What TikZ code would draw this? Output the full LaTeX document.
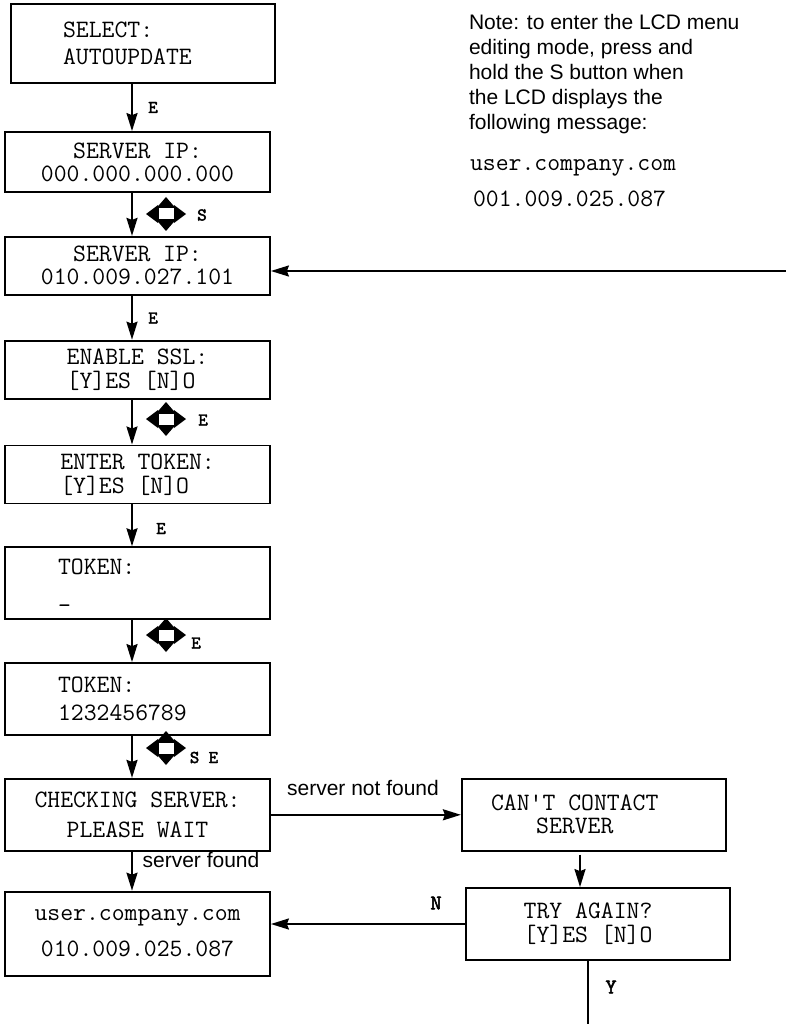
\documentclass[tikz,border=0pt]{standalone}
\usepackage{fontspec}
\setmainfont{Liberation Sans}
\newfontfamily\keyfont{lmmono10-regular.otf}[FakeBold=2.5]
\usetikzlibrary{positioning,arrows.meta}
\begin{document}
\begin{tikzpicture}[x=1pt,y=-1pt,line width=2pt,every node/.style={inner sep=0pt},
  lcd/.style={draw,line width=1.8pt,minimum width=265pt,minimum height=#1,font=\ttfamily\fontsize{25}{27}\selectfont},
  keypad/.pic={
    \draw[fill=white,line width=1pt](-8,-6) rectangle (8,6);
    \fill(-8,-9)--(-8,9)--(-20,0)--cycle;
    \fill(8,-9)--(8,9)--(20,0)--cycle;
    \fill(-9.5,-6)--(9.5,-6)--(0,-17)--cycle;
    \fill(-9.5,6)--(9.5,6)--(0,17)--cycle;
  }]
\tikzstyle{arr}=[draw,-{Stealth[length=18pt,width=11pt,inset=2pt]}]
\tikzstyle{key}=[font=\keyfont\fontsize{18}{20}\selectfont]
\tikzstyle{msg}=[font=\fontsize{21}{25}\selectfont]
\useasboundingbox (0,0) rectangle (786,1024);

\node[lcd=79pt,minimum width=264pt,align=left,text width=160pt,inner xsep=52pt](sel) at (143,43.5){SELECT:\\AUTOUPDATE};
\node[lcd=60pt,align=center](ip0) at (137.5,162){SERVER IP:\\[-4pt]000.000.000.000};
\node[lcd=58pt,align=center,below=43pt of ip0](ip1){SERVER IP:\\[-4pt]010.009.027.101};
\node[lcd=58pt,align=left,below=44pt of ip1](ssl){ENABLE SSL:\\[-3pt]{}[Y]ES [N]O};
\node[lcd=58pt,align=left,below=45pt of ssl](tok){ENTER TOKEN:\\[-3pt]{}[Y]ES [N]O};
\node[lcd=72pt,align=left,text width=159pt,inner xsep=53pt,below=42pt of tok](tin){TOKEN:\\\_};
\node[lcd=72pt,align=left,text width=159pt,inner xsep=53pt,below=42pt of tin](tval){TOKEN:\\[1pt]1232456789};
\node[lcd=72pt,align=center,below=42pt of tval](chk){CHECKING SERVER:\\[3pt]PLEASE WAIT};
\node[lcd=84pt,align=center,below=39pt of chk](done){user.company.com\\[9pt]010.009.025.087};
\node[lcd=72pt,minimum width=264pt,align=center,right=190pt of chk](fail){CAN'T CONTACT\hspace*{38pt}\\[-4pt]SERVER\hspace*{38pt}};
\node[lcd=72pt,minimum width=264pt,align=center](again) at (598,924){TRY AGAIN?\hspace*{20pt}\\[-3pt]{}[Y]ES [N]O\hspace*{20pt}};

% note on the right
\node[msg,align=left,anchor=north west](note) at (468,13){Note: to enter the LCD menu\\editing mode, press and\\hold the S button when\\the LCD displays the\\following message:};
\node[font=\ttfamily\fontsize{25}{27}\selectfont,anchor=base west](nhost) at (469,171){user.company.com};
\node[font=\ttfamily\fontsize{25}{27}\selectfont,anchor=base west](nip) at (472,207){001.009.025.087};

% main column
\coordinate (col) at (132,0);
\path[arr](sel.south -| col)--(ip0.north -| col);
\path[arr](ip0.south -| col)--(ip1.north -| col);
\path[arr](ip1.south -| col)--(ssl.north -| col);
\path[arr](ssl.south -| col)--(tok.north -| col);
\path[arr](tok.south -| col)--(tin.north -| col);
\path[arr](tin.south -| col)--(tval.north -| col);
\path[arr](tval.south -| col)--(chk.north -| col);
\path[arr](chk.south -| col)--(done.north -| col);

\coordinate (entry) at (786,271);
\path[arr](entry)--(entry -| ip1.east);

\path[arr](chk.east)--(fail.west);
\coordinate (drop) at (580,0);
\path[arr,shorten <=3pt](fail.south -| drop)--(again.north -| drop);
\path[arr](again.west)--(again.west -| done.east);
\coordinate (retry) at (588,1024);
\draw(again.south -| retry)--(retry);

% button labels
\node[key](e1) at (153,107.5){E};
\pic (k1) at (166,214){keypad};
\node[key](s1) at (202,215){S};
\node[key](e2) at (153,318){E};
\pic (k2) at (166,419){keypad};
\node[key](e3) at (203,420){E};
\node[key](e4) at (161,528.5){E};
\pic (k3) at (166,635){keypad};
\node[key](e5) at (196,643){E};
\pic (k4) at (166,748){keypad};
\node[key](se) at (204,757.5){S E};

\node[msg](nf) at (363,788){server not found};
\node[msg](sf) at (201,860){server found};
\node[key,font=\keyfont\fontsize{21}{23}\selectfont](no) at (436,903){N};
\node[key,font=\keyfont\fontsize{21}{23}\selectfont](yes) at (611,987){Y};
\end{tikzpicture}
\end{document}
